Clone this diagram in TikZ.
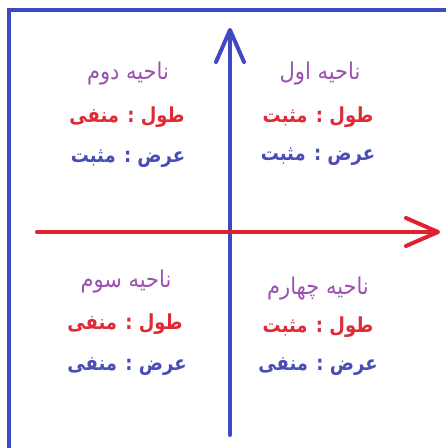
\documentclass[tikz,border=0pt]{standalone}
\usepackage{fontspec}
\TeXXeTstate=1
\newfontfamily\fa[Script=Arabic]{DejaVu Sans}
\usetikzlibrary{arrows.meta}
\definecolor{axblue}{HTML}{4048C4}
\definecolor{axred}{HTML}{E0222E}
\definecolor{ttl}{HTML}{9A52B0}
\definecolor{lnred}{HTML}{E02A36}
\definecolor{lnblue}{HTML}{4A4CB8}
\tikzset{
  frame/.style={draw=axblue,line width=4pt},
  axis/.style={line width=4pt,line cap=round,-{Straight Barb[length=32pt,width=28pt,line width=4pt,round]}},
  ttlbox/.style={text=ttl,font=\fa\fontsize{21}{24}\selectfont,inner sep=0pt,yscale=1.1},
  lenbox/.style={text=lnred,font=\fa\bfseries\fontsize{18}{22}\selectfont,inner sep=0pt,yscale=1.15},
  widbox/.style={text=lnblue,font=\fa\bfseries\fontsize{18}{22}\selectfont,inner sep=0pt,yscale=1.15}
}
\begin{document}
\begin{tikzpicture}[x=1pt,y=1pt]
\useasboundingbox (0,0) rectangle (446,448);
\fill[white] (0,0) rectangle (446,448);
\draw[frame] (9,-5) -- (9,438) -- (452,438);
% axes
\coordinate (vs) at (230,13);
\coordinate (ve) at (230,420);
\coordinate (hs) at (37,216);
\coordinate (he) at (440,216);
\draw[axis,axblue] (vs) -- (ve);
\draw[axis,axred] (hs) -- (he);
% quadrant I
\node[ttlbox] (q1t) at (320,374) {\beginR ناحیه اول\endR};
\node[lenbox] (q1l) at (318,331) {\beginR طول : مثبت\endR};
\node[widbox] (q1w) at (318,291) {\beginR عرض : مثبت\endR};
% quadrant II
\node[ttlbox] (q2t) at (128,374) {\beginR ناحیه دوم\endR};
\node[lenbox] (q2l) at (127,331) {\beginR طول : منفی\endR};
\node[widbox] (q2w) at (128,289) {\beginR عرض : مثبت\endR};
% quadrant III
\node[ttlbox] (q3t) at (126,166) {\beginR ناحیه سوم\endR};
\node[lenbox] (q3l) at (125,124) {\beginR طول : منفی\endR};
\node[widbox] (q3w) at (127,81) {\beginR عرض : منفی\endR};
% quadrant IV
\node[ttlbox] (q4t) at (318,159) {\beginR ناحیه چهارم\endR};
\node[lenbox] (q4l) at (318,121) {\beginR طول : مثبت\endR};
\node[widbox] (q4w) at (318,81) {\beginR عرض : منفی\endR};
\end{tikzpicture}
\end{document}
